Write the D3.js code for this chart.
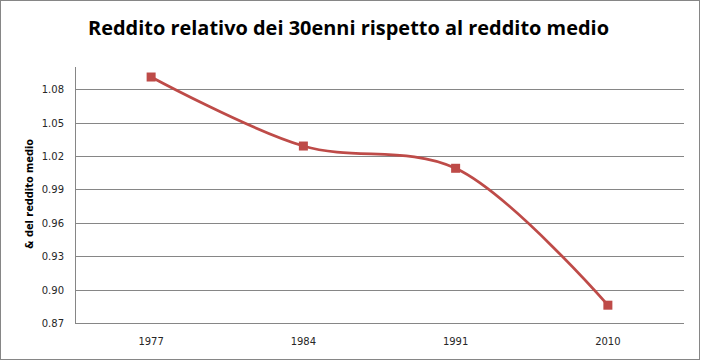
<!DOCTYPE html>
<html>
<head>
<meta charset="utf-8">
<script src="https://cdn.jsdelivr.net/npm/d3@7"></script>
<style>
  body { margin: 0; background: #fff; }
</style>
</head>
<body>
<div id="viz"></div>
<script>
// Data
const years = ["1977", "1984", "1991", "2010"];
const values = [1.091, 1.029, 1.009, 0.886];
const yTicks = [0.87, 0.90, 0.93, 0.96, 0.99, 1.02, 1.05, 1.08];

const W = 701, H = 361;
const margin = { top: 67, right: 17, bottom: 38, left: 75 };
const width = W - margin.left - margin.right;
const height = H - margin.top - margin.bottom;

const root = d3.select("#viz")
    .append("svg")
    .attr("width", W)
    .attr("height", H);

// outer frame
root.append("rect")
    .attr("x", 0.5).attr("y", 0.5)
    .attr("width", W - 2).attr("height", H - 2)
    .attr("fill", "#fff")
    .attr("stroke", "#868686");

root.append("text")
    .attr("x", 348.5)
    .attr("y", 35)
    .attr("text-anchor", "middle")
    .attr("textLength", 521)
    .attr("lengthAdjust", "spacingAndGlyphs")
    .style("font-family", "'Open Sans', sans-serif")
    .style("font-size", "19.5px")
    .style("font-weight", "700")
    .attr("fill", "#000")
    .text("Reddito relativo dei 30enni rispetto al reddito medio");

const svg = root.append("g")
    .attr("transform", `translate(${margin.left},${margin.top})`);

const x = d3.scaleBand()
    .domain(years)
    .range([0, width]);

const y = d3.scaleLinear()
    .domain([0.87, 1.10])
    .range([height, 0]);

// gridlines
svg.selectAll("line.grid")
    .data(yTicks)
    .enter()
    .append("line")
    .attr("class", "grid")
    .attr("x1", 0)
    .attr("x2", width)
    .attr("y1", d => Math.round(y(d)) + 0.5)
    .attr("y2", d => Math.round(y(d)) + 0.5)
    .attr("stroke", "#868686");

// left axis line
svg.append("line")
    .attr("x1", 0.5).attr("x2", 0.5)
    .attr("y1", 0).attr("y2", height)
    .attr("stroke", "#868686");

svg.selectAll("text.ytick")
    .data(yTicks)
    .enter()
    .append("text")
    .attr("class", "ytick")
    .attr("x", -11)
    .attr("y", d => y(d) + 4)
    .attr("text-anchor", "end")
    .style("font-family", "'DejaVu Sans', Verdana, sans-serif")
    .style("font-size", "10px")
    .attr("fill", "#262626")
    .text(d => d.toFixed(2));

svg.selectAll("text.xtick")
    .data(years)
    .enter()
    .append("text")
    .attr("class", "xtick")
    .attr("x", d => x(d) + x.bandwidth() / 2)
    .attr("y", height + 22)
    .attr("text-anchor", "middle")
    .style("font-family", "'DejaVu Sans', Verdana, sans-serif")
    .style("font-size", "10px")
    .attr("fill", "#262626")
    .text(d => d);

svg.append("text")
    .attr("transform", `translate(-42,${height / 2 - 1}) rotate(-90)`)
    .attr("text-anchor", "middle")
    .style("font-family", "'DejaVu Sans', Verdana, sans-serif")
    .style("font-size", "9.8px")
    .style("font-weight", "bold")
    .attr("fill", "#000")
    .text("& del reddito medio");

const pts = years.map((d, i) => [x(d) + x.bandwidth() / 2, y(values[i])]);

svg.append("path")
    .attr("d", d3.line().curve(d3.curveCatmullRom.alpha(0.5))(pts))
    .attr("fill", "none")
    .attr("stroke", "#BE4B48")
    .attr("stroke-width", 2.75);

svg.selectAll("rect.mark")
    .data(pts)
    .enter()
    .append("rect")
    .attr("class", "mark")
    .attr("x", d => d[0] - 4.5)
    .attr("y", d => d[1] - 4.5)
    .attr("width", 9)
    .attr("height", 9)
    .attr("fill", "#BE4B48");
</script>
</body>
</html>
